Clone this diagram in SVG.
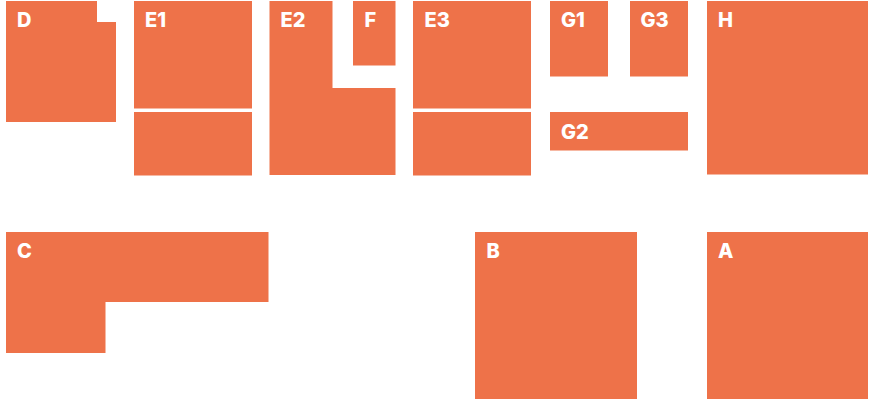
<svg xmlns="http://www.w3.org/2000/svg" width="869" height="399" viewBox="0 0 869 399">
<style>
.b{fill:#EE7249;}
.t{fill:#fff;font-family:Inter,"Liberation Sans",sans-serif;font-weight:800;font-size:20px;}
</style>
<rect width="869" height="399" fill="#fff"/>
<g id="D"><polygon class="b" points="6,1 97,1 97,22 116,22 116,122 6,122"/><text class="t" x="17" y="27">D</text></g>
<g id="E1"><rect class="b" x="134" y="1" width="118" height="107.5"/><rect class="b" x="134" y="112" width="118" height="63.5"/><text class="t" x="145" y="27">E1</text></g>
<g id="E2"><polygon class="b" points="269.5,1 332.5,1 332.5,88 395.5,88 395.5,175 269.5,175"/><text class="t" x="280.5" y="27">E2</text></g>
<g id="F"><rect class="b" x="353" y="1" width="42.5" height="64.5"/><text class="t" x="364.5" y="27">F</text></g>
<g id="E3"><rect class="b" x="413" y="1" width="118" height="107.5"/><rect class="b" x="413" y="112" width="118" height="63.5"/><text class="t" x="424.5" y="27">E3</text></g>
<g id="G1"><rect class="b" x="550" y="1" width="58" height="75.5"/><text class="t" x="561" y="27">G1</text></g>
<g id="G3"><rect class="b" x="630" y="1" width="58" height="75.5"/><text class="t" x="640.5" y="27">G3</text></g>
<g id="G2"><rect class="b" x="550" y="112" width="138" height="38.5"/><text class="t" x="561" y="139">G2</text></g>
<g id="H"><rect class="b" x="707" y="1" width="161" height="173.5"/><text class="t" x="718" y="27">H</text></g>
<g id="C"><polygon class="b" points="6,232 268.5,232 268.5,302 105.5,302 105.5,353 6,353"/><text class="t" x="17" y="258">C</text></g>
<g id="B"><rect class="b" x="475" y="232" width="162" height="167"/><text class="t" x="486.5" y="258">B</text></g>
<g id="A"><rect class="b" x="707" y="232" width="161" height="167"/><text class="t" x="718" y="258">A</text></g>
<g id="connectors"></g>
</svg>
